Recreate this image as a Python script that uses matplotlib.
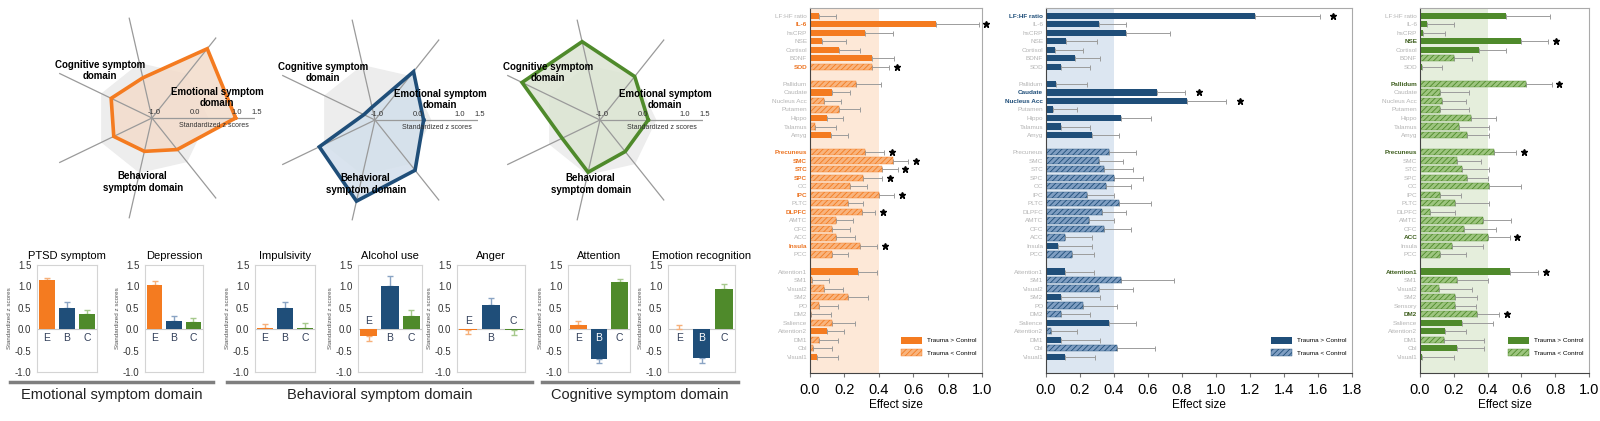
import numpy as np
import matplotlib
matplotlib.use("Agg")
import matplotlib.pyplot as plt
from matplotlib.patches import Patch
from matplotlib.lines import Line2D
from matplotlib.transforms import offset_copy

plt.rcParams["font.family"] = ["Liberation Sans", "DejaVu Sans"]
plt.rcParams["hatch.linewidth"] = 0.6

# ---- symptom profiles (standardized z scores) ----
symptoms = ["PTSD symptom", "Depression", "Impulsivity", "Alcohol use", "Anger", "Attention", "Emotion recognition"]
emo_scores = [1.15, 1.03, 0.03, -0.17, -0.02, 0.10, 0.00]
emo_err = [0.05, 0.10, 0.10, 0.10, 0.10, 0.08, 0.10]
beh_scores = [0.50, 0.18, 0.50, 1.02, 0.56, -0.70, -0.68]
beh_err = [0.13, 0.13, 0.13, 0.22, 0.18, 0.10, 0.10]
cog_scores = [0.35, 0.17, 0.02, 0.30, -0.02, 1.10, 0.95]
cog_err = [0.10, 0.10, 0.12, 0.15, 0.12, 0.07, 0.10]
groups_short = ["E", "B", "C"]
domains = ["Emotional symptom domain", "Behavioral symptom domain", "Cognitive symptom domain"]
# order of the spokes, counter clockwise from the horizontal axis
radar_order = ["Depression", "PTSD symptom", "Emotion recognition", "Attention", "Impulsivity", "Alcohol use", "Anger"]
radar_ticks = [-1.0, 0.0, 1.0, 1.5]

# ---- effect sizes ----
bio_labels = ["LF:HF ratio", "IL-6", "hsCRP", "NSE", "Cortisol", "BDNF", "SOD"]
sub_labels = ["Pallidum", "Caudate", "Nucleus Acc", "Putamen", "Hippo", "Talamus", "Amyg"]
ctx_labels = ["Precuneus", "SMC", "STC", "SPC", "OC", "IPC", "PLTC", "DLPFC", "AMTC", "OFC", "ACC", "Insula", "PCC"]
net_labels = ["Attention1", "SM1", "Visual2", "SM2", "PO", "DM2", "Salience", "Attention2", "DM1", "Cbl", "Visual1"]
net_labels_c = ["Attention1", "SM1", "Visual2", "SM2", "Sensory", "DM2", "Salience", "Attention2", "DM1", "Cbl", "Visual1"]

emo_es = [0.05, 0.73, 0.32, 0.07, 0.17, 0.36, 0.36,
          0.27, 0.13, 0.08, 0.17, 0.10, 0.03, 0.12,
          0.32, 0.48, 0.42, 0.31, 0.23, 0.40, 0.22, 0.30, 0.15, 0.13, 0.15, 0.29, 0.13,
          0.28, 0.01, 0.08, 0.22, 0.05, 0.005, 0.13, 0.10, 0.05, 0.02, 0.04]
emo_es_err = [0.10, 0.25, 0.16, 0.14, 0.12, 0.13, 0.10,
              0.14, 0.10, 0.10, 0.12, 0.09, 0.12, 0.10,
              0.11, 0.09, 0.09, 0.11, 0.10, 0.09, 0.09, 0.08, 0.10, 0.10, 0.11, 0.10, 0.09,
              0.11, 0.10, 0.11, 0.12, 0.11, 0.115, 0.13, 0.10, 0.11, 0.11, 0.12]
emo_neg = [0, 0, 0, 0, 0, 0, 1,
           1, 0, 1, 1, 0, 1, 0,
           1, 1, 1, 1, 1, 1, 1, 1, 1, 1, 1, 1, 1,
           0, 1, 1, 1, 1, 1, 1, 0, 1, 1, 0]
emo_sig = ["IL-6", "SOD", "Precuneus", "SMC", "STC", "SPC", "IPC", "DLPFC", "Insula"]

beh_es = [1.23, 0.31, 0.47, 0.12, 0.05, 0.17, 0.09,
          0.06, 0.65, 0.83, 0.04, 0.44, 0.09, 0.27,
          0.37, 0.31, 0.34, 0.40, 0.35, 0.24, 0.43, 0.33, 0.25, 0.34, 0.11, 0.07, 0.15,
          0.11, 0.44, 0.31, 0.09, 0.22, 0.09, 0.37, 0.03, 0.09, 0.42, 0.11]
beh_es_err = [0.38, 0.16, 0.26, 0.18, 0.17, 0.15, 0.17,
              0.18, 0.17, 0.23, 0.14, 0.18, 0.17, 0.16,
              0.16, 0.14, 0.17, 0.17, 0.15, 0.16, 0.19, 0.14, 0.15, 0.16, 0.16, 0.20, 0.13,
              0.17, 0.31, 0.20, 0.23, 0.20, 0.17, 0.16, 0.15, 0.23, 0.22, 0.18]
beh_neg = [0, 0, 0, 0, 0, 0, 0,
           0, 0, 0, 0, 0, 0, 0,
           1, 1, 1, 1, 1, 1, 1, 1, 1, 1, 1, 0, 1,
           0, 1, 1, 0, 1, 1, 0, 1, 0, 1, 0]
beh_sig = ["LF:HF ratio", "Caudate", "Nucleus Acc"]

cog_es = [0.51, 0.04, 0.02, 0.60, 0.35, 0.20, 0.01,
          0.63, 0.12, 0.13, 0.12, 0.30, 0.23, 0.28,
          0.44, 0.22, 0.25, 0.28, 0.41, 0.12, 0.21, 0.06, 0.37, 0.26, 0.40, 0.19, 0.12,
          0.53, 0.22, 0.11, 0.21, 0.21, 0.34, 0.25, 0.15, 0.14, 0.22, 0.01]
cog_es_err = [0.26, 0.16, 0.13, 0.16, 0.16, 0.11, 0.12,
              0.15, 0.17, 0.14, 0.17, 0.15, 0.18, 0.13,
              0.13, 0.14, 0.16, 0.12, 0.19, 0.12, 0.20, 0.15, 0.17, 0.19, 0.13, 0.18, 0.15,
              0.17, 0.18, 0.20, 0.13, 0.12, 0.13, 0.18, 0.12, 0.24, 0.16, 0.19]
cog_neg = [0, 0, 0, 0, 0, 1, 0,
           1, 1, 1, 1, 1, 1, 1,
           1, 1, 1, 1, 1, 1, 1, 1, 1, 1, 1, 1, 1,
           0, 1, 1, 1, 1, 1, 0, 0, 1, 0, 0]
cog_sig = ["NSE", "Pallidum", "Precuneus", "ACC", "Attention1", "DM2"]

legend_labels = ["Trauma > Control", "Trauma < Control"]

# colours: main, light, error bar, shaded band, radar fill
orange = "#F47B20"
blue = "#1F4E79"
green = "#4F8A2B"
light = {orange: "#F8B47E", blue: "#7F9EC2", green: "#9DC57F"}
err_col = {orange: "#F6B07A", blue: "#8AA4C4", green: "#A6C98C"}
shade = {orange: "#FDE8D7", blue: "#DCE6F1", green: "#E5EEDC"}
radar_fill = {orange: "#F3DCCB", blue: "#D3DFEB", green: "#DCE5D3"}
hl_col = {orange: "#EC7422", blue: "#1F4E79", green: "#3F5F1F"}

W, H = 1600, 421
fig = plt.figure(figsize=(W / 100, H / 100), dpi=100)


def px(x):
    return x / W


def py(y):
    return 1 - y / H


# ---------------- radar charts ----------------
theta = np.linspace(0, 2 * np.pi, len(radar_order), endpoint=False)
profiles = [(emo_scores, orange), (beh_scores, blue), (cog_scores, green)]
centres = [(152, 118), (375, 120), (600, 120)]
R = 103

for (scores, col), (cx, cy) in zip(profiles, centres):
    ax = fig.add_axes([px(cx - R), py(cy + R), 2 * R / W, 2 * R / H], projection="polar")
    ax.set_ylim(-1, 1.5)
    ax.grid(False)
    ax.set_xticks([])
    ax.set_yticks([])
    ax.spines["polar"].set_visible(False)
    ax.patch.set_alpha(0)
    vals = [scores[symptoms.index(s)] for s in radar_order]
    t = np.append(theta, theta[0])
    v = np.append(vals, vals[0])
    ax.fill(t, [0.35] * len(t), color="#EDEDED", zorder=0)
    ax.fill(t, v, color=radar_fill[col], alpha=0.85, zorder=1)
    for th in theta:
        ax.plot([th, th], [-1, 1.5], color="#9A9A9A", lw=0.9, zorder=2)
    ax.plot(t, v, color=col, lw=2.6, zorder=3, solid_joinstyle="miter")
    above = offset_copy(ax.transData, fig=fig, x=2, y=2, units="dots")
    for tk in radar_ticks:
        ax.text(0, tk, "%.1f" % tk, transform=above, fontsize=5.5, ha="center", va="bottom", color="#333333", zorder=4)
    below = offset_copy(ax.transData, fig=fig, x=0, y=-4, units="dots")
    ax.text(0, 0.5, "Standardized z scores", transform=below, fontsize=5, ha="center", va="top", color="#333333")
    ax.text(0.248, 0.73, "Cognitive symptom\ndomain", transform=ax.transAxes, fontsize=7, fontweight="bold",
            ha="center", va="center", zorder=5)
    ax.text(0.815, 0.60, "Emotional symptom\ndomain", transform=ax.transAxes, fontsize=7, fontweight="bold",
            ha="center", va="center", zorder=5)
    ax.text(0.455, 0.19, "Behavioral\nsymptom domain", transform=ax.transAxes, fontsize=7, fontweight="bold",
            ha="center", va="center", zorder=5)

# ---------------- symptom bar charts ----------------
panel_x = [(37, 97), (145, 203), (255, 315), (358, 422), (457, 525), (568, 630), (668, 735)]
bar_cols = [orange, blue, green]
for i, name in enumerate(symptoms):
    x0, x1 = panel_x[i]
    ax = fig.add_axes([px(x0), py(372), (x1 - x0) / W, 107 / H])
    vals = [emo_scores[i], beh_scores[i], cog_scores[i]]
    errs = [emo_err[i], beh_err[i], cog_err[i]]
    ax.bar(range(3), vals, width=0.8, color=bar_cols, zorder=2)
    for j in range(3):
        if vals[j] >= 0:
            ye = [[0], [errs[j]]]
        else:
            ye = [[errs[j]], [0]]
        ax.errorbar(j, vals[j], yerr=ye, fmt="none", ecolor=err_col[bar_cols[j]], elinewidth=1,
                    capsize=2.5, capthick=1, zorder=1)
        if vals[j] < -0.5:
            ax.text(j, -0.2, groups_short[j], ha="center", va="center", fontsize=7.5, color="white", zorder=3)
        elif vals[j] < -0.01:
            ax.text(j, 0.2, groups_short[j], ha="center", va="center", fontsize=7.5, color="#33405A", zorder=3)
        else:
            ax.text(j, -0.2, groups_short[j], ha="center", va="center", fontsize=7.5, color="#33405A", zorder=3)
    ax.axhline(0, color="#C8C8C8", lw=0.8, zorder=0)
    ax.set_xlim(-0.5, 2.5)
    ax.set_ylim(-1, 1.5)
    ax.set_xticks([])
    ax.set_yticks([-1, -0.5, 0, 0.5, 1, 1.5])
    ax.set_yticklabels(["-1.0", "-0.5", "0.0", "0.5", "1.0", "1.5"])
    ax.tick_params(axis="y", length=0, labelsize=7, pad=4, labelcolor="#333333")
    for sp in ax.spines.values():
        sp.set_color("#D4D4D4")
        sp.set_linewidth(0.8)
    ax.set_ylabel("Standardized z scores", fontsize=4.5, color="#555555", labelpad=2)
    ax.set_title(name, fontsize=8, pad=4)

# domain underlines and names
dom_span = [(10, 213), (227, 532), (542, 738)]
for (a, b), d in zip(dom_span, domains):
    fig.add_artist(Line2D([px(a), px(b)], [py(382), py(382)], color="#7F7F7F", lw=2.5, transform=fig.transFigure))
    fig.text(px((a + b) / 2), py(395), d, ha="center", va="center", fontsize=10.5, color="#222222")

# ---------------- effect size panels ----------------
groups = [bio_labels, sub_labels, ctx_labels, net_labels]
ypos = []
k = 0
for g in groups:
    ypos += list(range(k, k + len(g)))
    k += len(g) + 1


def effect_panel(x0, x1, es, es_err, neg, sig, labels, col, xmax):
    ax = fig.add_axes([px(x0), py(373), (x1 - x0) / W, 365 / H])
    ax.axvspan(0, 0.4, color=shade[col], zorder=0, lw=0)
    bars = ax.barh(ypos, es, height=0.74, color=col, zorder=2, lw=0)
    for b, n in zip(bars, neg):
        if n:
            b.set_facecolor(light[col])
            b.set_edgecolor(col)
            b.set_hatch("//////")
            b.set_linewidth(0.3)
    ax.errorbar(es, ypos, xerr=[np.zeros(len(es)), es_err], fmt="none", ecolor="#9C9C9C",
                elinewidth=0.7, capsize=1.8, capthick=0.7, zorder=1)
    for lab, y, v, e in zip(labels, ypos, es, es_err):
        if lab in sig:
            ax.plot(v + e + 0.045 * xmax, y, marker="*", color="black", ms=5, clip_on=False, zorder=4)
    ax.set_ylim(41.9, -0.9)
    ax.set_xlim(0, xmax)
    ticks = np.arange(0, xmax + 0.01, 0.2)
    ax.set_xticks(ticks)
    ax.set_xticklabels(["%.1f" % t for t in ticks])
    ax.tick_params(axis="x", labelsize=10.5, length=3, color="#777777", pad=4)
    ax.set_xlabel("Effect size", fontsize=8.5, labelpad=2)
    ax.set_yticks(ypos)
    ax.set_yticklabels(labels)
    ax.tick_params(axis="y", length=0, labelsize=4.6, pad=2)
    for tl in ax.get_yticklabels():
        if tl.get_text() in sig:
            tl.set_color(hl_col[col])
            tl.set_fontweight("bold")
        else:
            tl.set_color("#B5B5B5")
    ax.spines["left"].set_color("#444444")
    ax.spines["bottom"].set_color("#444444")
    ax.spines["top"].set_color("#AAAAAA")
    ax.spines["right"].set_color("#AAAAAA")
    for sp in ax.spines.values():
        sp.set_linewidth(0.8)
    handles = [Patch(facecolor=col, edgecolor=col, lw=0),
               Patch(facecolor=light[col], edgecolor=col, hatch="//////", lw=0.3)]
    ax.legend(handles, legend_labels, loc="lower right", bbox_to_anchor=(1.0, 0.03), frameon=False,
              fontsize=4.6, handlelength=3.2, handleheight=1.3, labelspacing=0.9, borderaxespad=0.5)
    return ax


labels_ab = bio_labels + sub_labels + ctx_labels + net_labels
labels_c = bio_labels + sub_labels + ctx_labels + net_labels_c
effect_panel(810, 982, emo_es, emo_es_err, emo_neg, emo_sig, labels_ab, orange, 1.0)
effect_panel(1046, 1352, beh_es, beh_es_err, beh_neg, beh_sig, labels_ab, blue, 1.8)
effect_panel(1420, 1589, cog_es, cog_es_err, cog_neg, cog_sig, labels_c, green, 1.0)

fig.savefig("out.png", dpi=100)
